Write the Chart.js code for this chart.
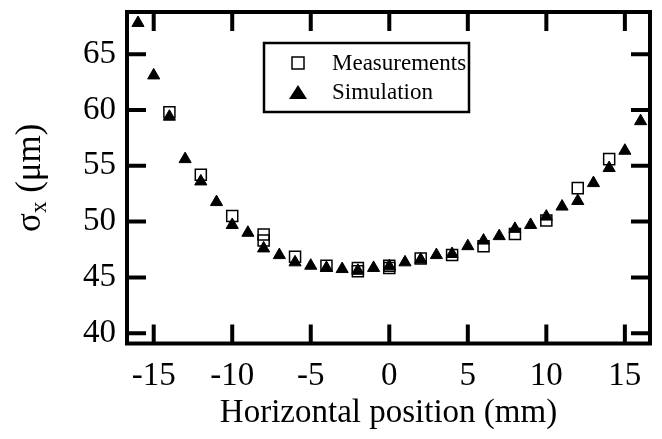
<!DOCTYPE html>
<html>
<head>
<meta charset="utf-8">
<script src="https://cdn.jsdelivr.net/npm/chart.js"></script>
<style>
  html, body { margin: 0; padding: 0; background: #fff; }
  #wrap { width: 662px; height: 439px; }
</style>
</head>
<body>
<div id="wrap"><canvas id="beamChart" width="662" height="439"></canvas></div>
<script>
// horizontal beam size vs. position
const simPosition = [-16, -15, -14, -13, -12, -11, -10, -9, -8, -7, -6, -5, -4, -3, -2, -1,
                     0, 1, 2, 3, 4, 5, 6, 7, 8, 9, 10, 11, 12, 13, 14, 15, 16];
const simSigma = [67.8, 63.1, 59.4, 55.6, 53.6, 51.75, 49.7, 49.0, 47.6, 47.0, 46.35, 46.05, 45.85, 45.75, 45.6, 45.85,
                  46.0, 46.35, 46.6, 47.0, 47.1, 47.8, 48.3, 48.7, 49.35, 49.7, 50.45, 51.35, 51.85, 53.45, 54.8, 56.35, 59.0];

const measPosition = [-14, -12, -10, -8, -8, -6, -4, -2, -2, 0, 0, 2, 4, 6, 8, 10, 12, 14];
const measSigma = [59.8, 54.2, 50.5, 48.85, 48.3, 46.85, 46.05, 45.85, 45.55, 46.05, 45.85, 46.7, 47.0, 47.8, 48.9, 50.1, 53.0, 55.6];

const xTicks = [-15, -10, -5, 0, 5, 10, 15];
const yTicks = [40, 45, 50, 55, 60, 65];

const serif = '"Liberation Serif", "Times New Roman", serif';

const toPoints = (xs, ys) => xs.map((x, i) => ({ x: x, y: ys[i] }));

// frame with inward ticks on all four sides
const framePlugin = {
  id: 'frame',
  afterDatasetsDraw(chart) {
    const { ctx, chartArea: a, scales } = chart;
    const len = 19;
    ctx.save();
    ctx.strokeStyle = '#000';
    ctx.lineWidth = 4;
    ctx.lineCap = 'butt';
    ctx.beginPath();
    xTicks.forEach(v => {
      const px = scales.x.getPixelForValue(v);
      ctx.moveTo(px, a.bottom); ctx.lineTo(px, a.bottom - len);
      ctx.moveTo(px, a.top); ctx.lineTo(px, a.top + len);
    });
    yTicks.forEach(v => {
      const py = scales.y.getPixelForValue(v);
      ctx.moveTo(a.left, py); ctx.lineTo(a.left + len, py);
      ctx.moveTo(a.right, py); ctx.lineTo(a.right - len, py);
    });
    ctx.stroke();
    ctx.lineJoin = 'miter';
    ctx.strokeRect(a.left, a.top, a.right - a.left, a.bottom - a.top);
    ctx.restore();
  }
};

// rotated y title with a subscript
const yTitlePlugin = {
  id: 'yTitle',
  afterDraw(chart) {
    const { ctx, chartArea: a } = chart;
    const big = '35px ' + serif, small = '23px ' + serif;
    ctx.save();
    ctx.fillStyle = '#000';
    ctx.textBaseline = 'alphabetic';
    ctx.font = big;
    const w1 = ctx.measureText('σ').width;
    const w3 = ctx.measureText(' (μm)').width;
    ctx.font = small;
    const w2 = ctx.measureText('x').width;
    const total = w1 + w2 + w3;
    ctx.translate(40, (a.top + a.bottom) / 2);
    ctx.rotate(-Math.PI / 2);
    let x = -total / 2;
    ctx.font = big;
    ctx.fillText('σ', x, 0);
    x += w1;
    ctx.font = small;
    ctx.fillText('x', x, 6);
    x += w2;
    ctx.font = big;
    ctx.fillText(' (μm)', x, 0);
    ctx.restore();
  }
};

// boxed legend inside the plot
const legendBoxPlugin = {
  id: 'legendBox',
  afterDraw(chart) {
    const { ctx } = chart;
    const box = { left: 264, top: 43, right: 469, bottom: 112 };
    ctx.save();
    ctx.fillStyle = '#fff';
    ctx.fillRect(box.left, box.top, box.right - box.left, box.bottom - box.top);
    ctx.strokeStyle = '#000';
    ctx.lineWidth = 2.5;
    ctx.strokeRect(box.left, box.top, box.right - box.left, box.bottom - box.top);
    ctx.font = '23px ' + serif;
    ctx.textBaseline = 'middle';
    ctx.fillStyle = '#000';
    chart.data.datasets.forEach((ds, i) => {
      const cy = 63 + i * 29;
      const cx = 298;
      ctx.beginPath();
      if (ds.pointStyle === 'rect') {
        ctx.lineWidth = 1.5;
        ctx.strokeRect(cx - 6, cy - 6, 12, 12);
      } else {
        ctx.moveTo(cx, cy - 7);
        ctx.lineTo(cx + 9, cy + 7);
        ctx.lineTo(cx - 9, cy + 7);
        ctx.closePath();
        ctx.fill();
      }
      ctx.fillText(ds.label, 332, cy + 1);
    });
    ctx.restore();
  }
};

new Chart(document.getElementById('beamChart').getContext('2d'), {
  type: 'scatter',
  data: {
    datasets: [
      {
        label: 'Measurements',
        data: toPoints(measPosition, measSigma),
        pointStyle: 'rect',
        pointRadius: 7.8,
        pointHoverRadius: 7.8,
        borderWidth: 1.5,
        borderColor: '#000',
        backgroundColor: 'rgba(0,0,0,0)',
        order: 1
      },
      {
        label: 'Simulation',
        data: toPoints(simPosition, simSigma),
        pointStyle: 'triangle',
        pointRadius: 7,
        pointHoverRadius: 7,
        borderWidth: 1,
        borderColor: '#000',
        backgroundColor: '#000',
        order: 0
      }
    ]
  },
  options: {
    responsive: false,
    animation: false,
    devicePixelRatio: 1,
    layout: { padding: { top: 12, right: 12, left: 0, bottom: 0 } },
    plugins: {
      legend: { display: false },
      tooltip: { enabled: false }
    },
    scales: {
      x: {
        type: 'linear',
        min: -16.7,
        max: 16.6,
        grid: { display: false, drawTicks: false },
        border: { display: false },
        ticks: {
          stepSize: 5,
          includeBounds: false,
          color: '#000',
          padding: 13,
          maxRotation: 0,
          font: { family: serif, size: 33 }
        },
        title: {
          display: true,
          text: 'Horizontal position (mm)',
          color: '#000',
          padding: { top: 0, bottom: 6 },
          font: { family: serif, size: 33 }
        },
        afterFit(scale) {
          scale.height = 95.5;
          scale.paddingLeft = 0;
          scale.paddingRight = 0;
        }
      },
      y: {
        type: 'linear',
        min: 39.08,
        max: 68.78,
        grid: { display: false, drawTicks: false },
        border: { display: false },
        ticks: {
          stepSize: 5,
          includeBounds: false,
          color: '#000',
          padding: 11,
          font: { family: serif, size: 33 }
        },
        afterFit(scale) {
          scale.width = 127;
          scale.paddingTop = 0;
          scale.paddingBottom = 0;
        }
      }
    }
  },
  plugins: [framePlugin, yTitlePlugin, legendBoxPlugin]
});
</script>
</body>
</html>
